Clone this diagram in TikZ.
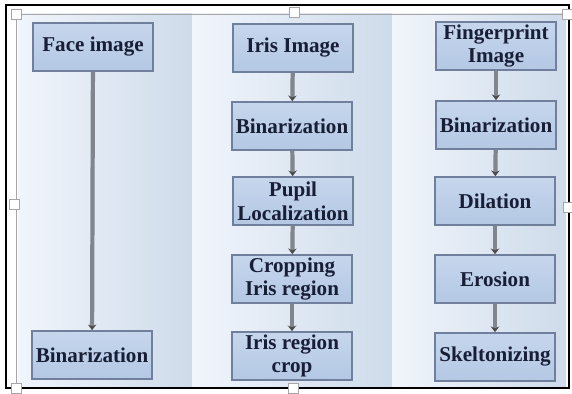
\documentclass[tikz,border=0pt]{standalone}
\usepackage{fontspec}
\setmainfont{Liberation Serif}
\usepackage{xcolor}
\usepackage{tikz}
\usetikzlibrary{arrows.meta,positioning}
\definecolor{boxfill}{RGB}{180,200,228}
\definecolor{boxtop}{RGB}{198,214,237}
\definecolor{boxline}{RGB}{112,128,156}
\definecolor{inktext}{RGB}{24,30,54}
\definecolor{paneL}{RGB}{241,245,252}
\definecolor{paneR}{RGB}{206,219,234}
\definecolor{flowgray}{RGB}{128,133,142}

\begin{document}
\begin{tikzpicture}[x=0.025cm,y=-0.025cm,
    stage/.style={rectangle,top color=boxtop,bottom color=boxfill,draw=boxline,line width=1.2pt,
      minimum width=3cm,minimum height=1.2cm,inner sep=1pt,align=center,text=inktext,
      font=\fontsize{15}{16.8}\selectfont\bfseries},
    flow/.style={draw=flowgray,line width=3pt,-{Stealth[length=4pt,width=6pt,color=black!70]}},
    handle/.style={rectangle,draw=gray!70,fill=white,minimum size=7pt,inner sep=0pt}]
    \useasboundingbox (0,0) rectangle (572,394);
    % column panels
    \shade[left color=paneL,right color=paneR] (18,14) rectangle (192,388);
    \shade[left color=paneL,right color=paneR] (192,14) rectangle (392,388);
    \shade[left color=paneL,right color=paneR] (392,14) rectangle (566,388);
    % frames
    \draw[gray!70,line width=0.6pt] (16,14) rectangle (568,388);
    \draw[black,line width=1.1pt] (6,5) rectangle (569,388);
    \node[handle] (h1) at (16,14) {};
    \node[handle] (h2) at (294,12) {};
    \node[handle] (h3) at (567,14) {};
    \node[handle] (h4) at (14,204) {};
    \node[handle] (h5) at (568,207) {};
    \node[handle] (h6) at (16,388) {};
    \node[handle] (h7) at (293,388) {};
    % face column
    \node[stage] (face) at (93,47) {Face image};
    \node[stage] (faceBin) at (92,355) {Binarization};
    % iris column
    \node[stage] (iris) at (293,48) {Iris Image};
    \node[stage] (irisBin) at (292,126) {Binarization};
    \node[stage] (pupil) at (293,201) {Pupil\\Localization};
    \node[stage] (cropIris) at (292,279) {Cropping\\Iris region};
    \node[stage] (irisCrop) at (292,356) {Iris region\\crop};
    % fingerprint column
    \node[stage] (finger) at (496,46) {Fingerprint\\Image};
    \node[stage] (fingerBin) at (496,125) {Binarization};
    \node[stage] (dil) at (495,201) {Dilation};
    \node[stage] (ero) at (495,279) {Erosion};
    \node[stage] (skel) at (495,357) {Skeltonizing};
    % connectors
    \draw[flow] (face) -- (faceBin);
    \draw[flow] (iris) -- (irisBin);
    \draw[flow] (irisBin) -- (pupil);
    \draw[flow] (pupil) -- (cropIris);
    \draw[flow] (cropIris) -- (irisCrop);
    \draw[flow] (finger) -- (fingerBin);
    \draw[flow] (fingerBin) -- (dil);
    \draw[flow] (dil) -- (ero);
    \draw[flow] (ero) -- (skel);
\end{tikzpicture}
\end{document}
